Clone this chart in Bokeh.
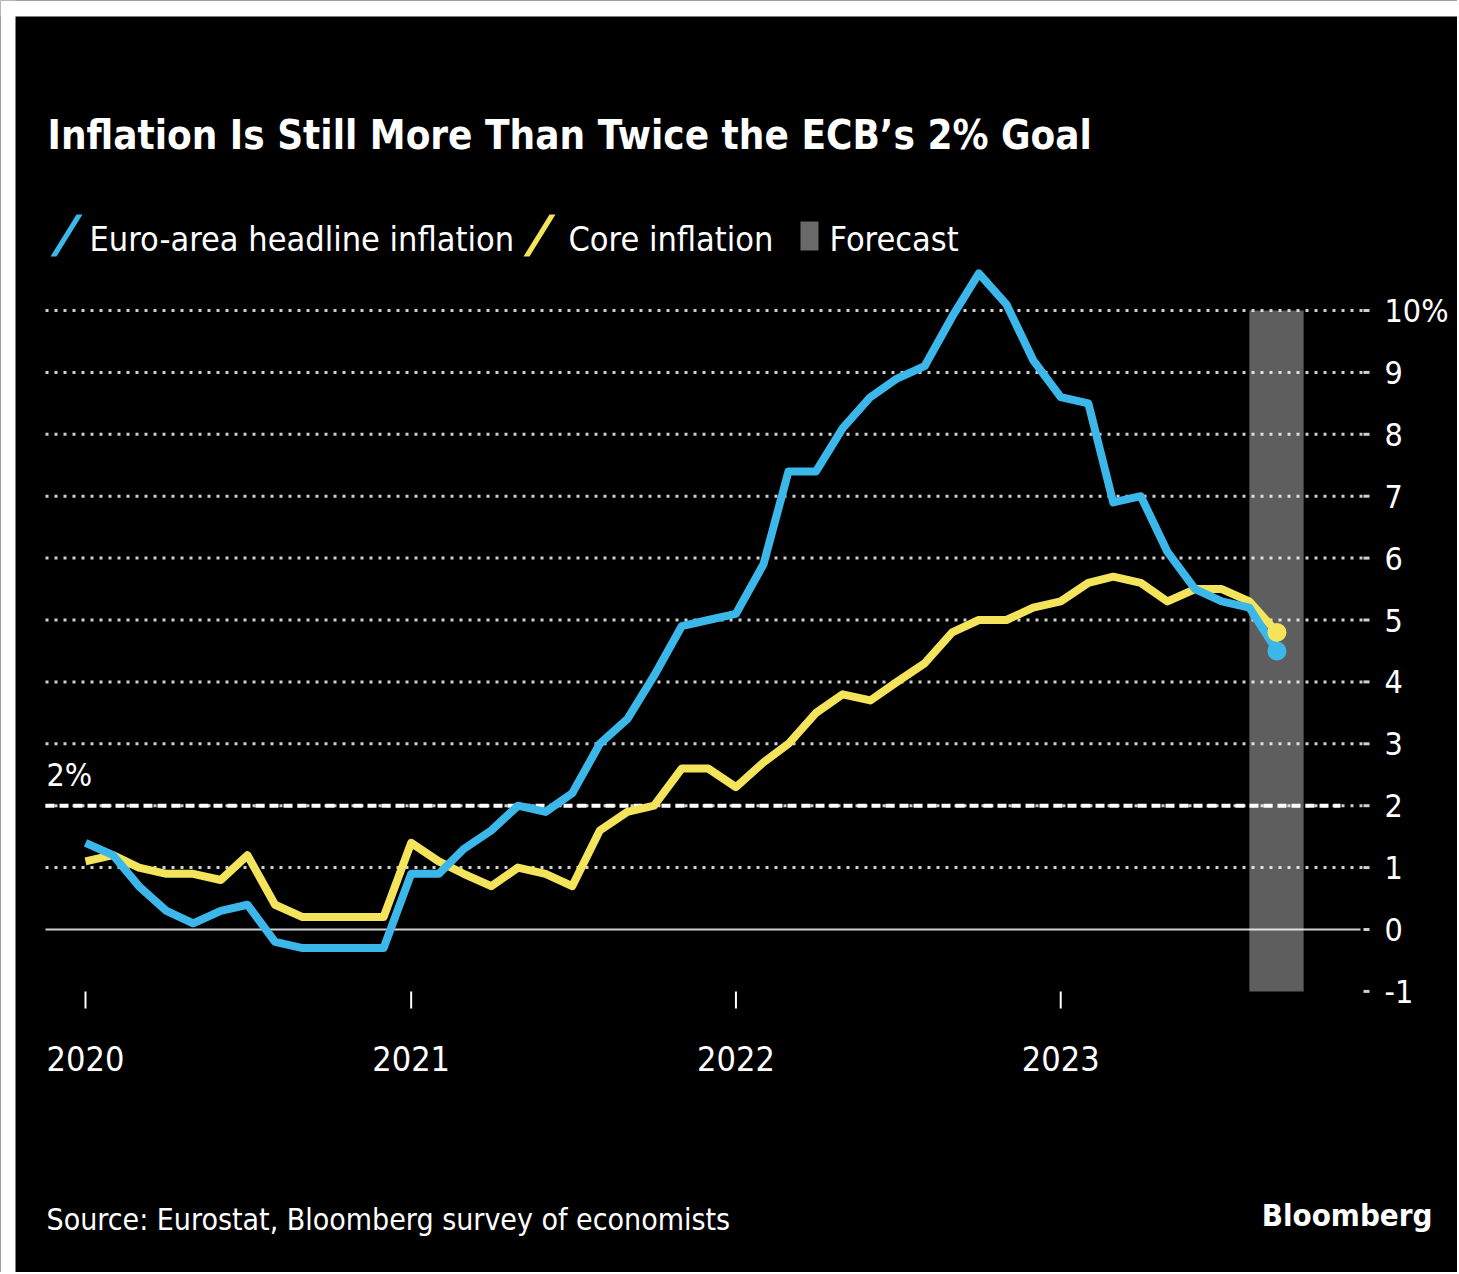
import pandas as pd
from bokeh.plotting import figure
from bokeh.models import Label, PolyAnnotation, BoxAnnotation
from bokeh.core.properties import value
from bokeh.embed import file_html
from bokeh.resources import INLINE

# ---------------- data ----------------
months = pd.date_range("2020-01-01", "2023-09-01", freq="MS")
headline = [1.4, 1.2, 0.7, 0.3, 0.1, 0.3, 0.4, -0.2, -0.3, -0.3, -0.3, -0.3,
            0.9, 0.9, 1.3, 1.6, 2.0, 1.9, 2.2, 3.0, 3.4, 4.1, 4.9, 5.0,
            5.1, 5.9, 7.4, 7.4, 8.1, 8.6, 8.9, 9.1, 9.9, 10.6, 10.1, 9.2,
            8.6, 8.5, 6.9, 7.0, 6.1, 5.5, 5.3, 5.2, 4.5]
core = [1.1, 1.2, 1.0, 0.9, 0.9, 0.8, 1.2, 0.4, 0.2, 0.2, 0.2, 0.2,
        1.4, 1.1, 0.9, 0.7, 1.0, 0.9, 0.7, 1.6, 1.9, 2.0, 2.6, 2.6,
        2.3, 2.7, 3.0, 3.5, 3.8, 3.7, 4.0, 4.3, 4.8, 5.0, 5.0, 5.2,
        5.3, 5.6, 5.7, 5.6, 5.3, 5.5, 5.5, 5.3, 4.8]
forecast_start = pd.Timestamp("2023-08-01")
forecast_end = pd.Timestamp("2023-10-01")
forecast_low, forecast_high = -1, 10
target = 2
year_ticks = [pd.Timestamp(f"{y}-01-01") for y in (2020, 2021, 2022, 2023)]
year_labels = ["2020", "2021", "2022", "2023"]
y_ticks = list(range(-1, 11))
y_labels = [str(v) for v in y_ticks[:-1]] + ["10%"]
grid_ticks = [1, 2, 3, 4, 5, 6, 7, 8, 9, 10]

title_text = "Inflation Is Still More Than Twice the ECB\u2019s 2% Goal"
legend_labels = ["Euro-area headline inflation", "Core inflation", "Forecast"]
source_text = "Source: Eurostat, Bloomberg survey of economists"
brand_text = "Bloomberg"

BLUE = "#3cb7ea"
YELLOW = "#f4e45c"
FONT = "DejaVu Sans Condensed"

# ---------------- layout (page px; the figure sits at the page origin) ----------------
W, H = 1457, 1272
YEAR_MS = 365.25 * 86400000.0
X_ORIGIN = pd.Timestamp("2020-01-01").value / 1e6
PX_2020, PX_PER_YEAR = 85, 325
PY_ZERO, PX_PER_UNIT = 929, 61.9

def X(px):
    return X_ORIGIN + (px - PX_2020) / PX_PER_YEAR * YEAR_MS

def Y(py):
    return (PY_ZERO - py) / PX_PER_UNIT

p = figure(width=W, height=H, x_axis_type="datetime",
           x_range=(X(0), X(W)), y_range=(Y(H), Y(0)),
           output_backend="svg", toolbar_location=None,
           background_fill_color="black", border_fill_color="black",
           outline_line_color=None,
           min_border_left=0, min_border_right=0, min_border_top=0, min_border_bottom=0)
p.axis.visible = False
p.grid.visible = False

GRID_L, GRID_R = X(45), X(1365)

# dotted grid
p.segment(x0=[GRID_L] * len(grid_ticks), x1=[GRID_R] * len(grid_ticks),
          y0=grid_ticks, y1=grid_ticks, line_color="#d0d0d0", line_width=3,
          line_dash="3 6")
# right tick stubs
p.segment(x0=[X(1363)] * len(y_ticks), x1=[X(1369)] * len(y_ticks),
          y0=y_ticks, y1=y_ticks, line_color="#d0d0d0", line_width=3)
# zero line
p.segment(x0=[GRID_L], x1=[X(1360)], y0=[0], y1=[0], line_color="#cfcfcf", line_width=2)
# target line
p.segment(x0=[GRID_L], x1=[X(1340)], y0=[target], y1=[target], line_color="white",
          line_width=4, line_dash="9 5")

# forecast band
p.quad(left=[forecast_start], right=[forecast_end],
       bottom=[forecast_low], top=[forecast_high],
       fill_color="white", fill_alpha=0.37, line_color=None)

# x ticks and labels
p.segment(x0=year_ticks, x1=year_ticks, y0=[Y(991)] * 4, y1=[Y(1008)] * 4,
          line_color="white", line_width=2)
p.text(x=year_ticks, y=[Y(1058)] * 4, text=year_labels, text_color="white",
       text_font=value(FONT), text_font_size="34px", text_align="center",
       text_baseline="middle")

# y labels
p.text(x=[X(1384)] * len(y_ticks), y=y_ticks, text=y_labels, text_color="white",
       text_font=value(FONT), text_font_size="32px", text_align="left",
       text_baseline="middle")

# lines
p.line(months, core, line_color=YELLOW, line_width=8, line_join="round")
p.line(months, headline, line_color=BLUE, line_width=8, line_join="round")
p.scatter(months[-1:], headline[-1:], size=19, fill_color=BLUE, line_color=None)
p.scatter(months[-1:], core[-1:], size=19, fill_color=YELLOW, line_color=None)

# ---------- text & legend (screen coords, frame = whole figure) ----------
def sx(px):
    return px

def sy(py):
    return H - py

def lab(text, px, py, size, bold=False, align="left"):
    # py: wanted baseline on the page
    p.add_layout(Label(x=sx(px), y=sy(py - 0.37 * size), x_units="screen", y_units="screen",
                       text=text, text_color="white", text_font=FONT,
                       text_font_size=f"{size}px",
                       text_font_style="bold" if bold else "normal",
                       text_align=align, text_baseline="alphabetic"))

lab(title_text, 47, 149, 40, bold=True)
lab(legend_labels[0], 89, 251, 34)
lab(legend_labels[1], 568, 251, 34)
lab(legend_labels[2], 829, 251, 34)
lab("2%", 46, 786, 32)
lab(source_text, 46, 1230, 30)
lab(brand_text, 1432, 1226, 31, bold=True, align="right")

def slash(x_bot, color):
    xs = [sx(x_bot), sx(x_bot + 6), sx(x_bot + 32), sx(x_bot + 26)]
    ys = [sy(256), sy(256), sy(214), sy(214)]
    p.add_layout(PolyAnnotation(xs=xs, ys=ys, xs_units="screen", ys_units="screen",
                                fill_color=color, fill_alpha=1, line_color=None))

slash(50, BLUE)
slash(523, YELLOW)
p.add_layout(BoxAnnotation(left=sx(800), right=sx(818), top=sy(221), bottom=sy(250),
                           left_units="screen", right_units="screen",
                           top_units="screen", bottom_units="screen",
                           fill_color="#6a6a6a", fill_alpha=1, line_color=None))

# white page strips at top / left, as in the reference
p.add_layout(BoxAnnotation(left=0, right=W, top=H, bottom=sy(16),
                           left_units="screen", right_units="screen",
                           top_units="screen", bottom_units="screen",
                           fill_color="white", fill_alpha=1, line_color=None))
p.add_layout(BoxAnnotation(left=0, right=sx(15), top=H, bottom=0,
                           left_units="screen", right_units="screen",
                           top_units="screen", bottom_units="screen",
                           fill_color="white", fill_alpha=1, line_color=None))

open("out.html", "w").write(file_html(p, INLINE))
